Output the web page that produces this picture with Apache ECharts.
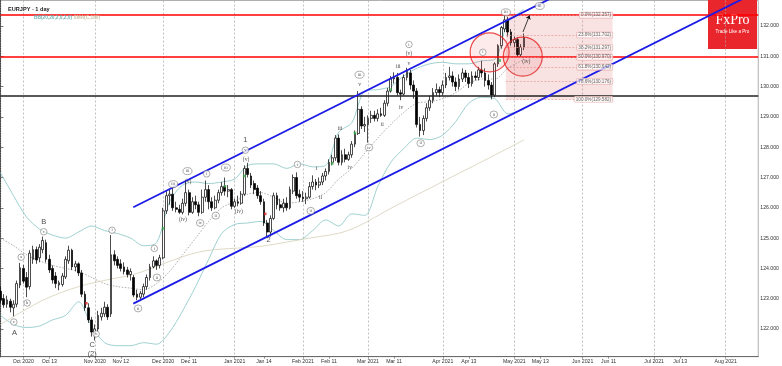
<!DOCTYPE html>
<html><head><meta charset="utf-8">
<script src="https://cdn.jsdelivr.net/npm/echarts@6/dist/echarts.min.js"></script>
<style>html,body{margin:0;padding:0;background:#fff}#c{width:782px;height:366px}</style>
</head><body><div id="c"></div>
<script>
// ---- calendar ----
const startDate = '2020-09-22';
const skipDates = ['2020-12-25'];
const barCount = 234;
const xLabelDates = ['2020-10-01','2020-10-13','2020-11-02','2020-11-12','2020-12-01','2020-12-11','2021-01-01','2021-01-14','2021-02-01','2021-02-11','2021-03-01','2021-03-11','2021-04-01','2021-04-13','2021-05-03','2021-05-13','2021-06-01','2021-06-11','2021-07-01','2021-07-13','2021-08-02'];
const xLabelTexts = ['Oct 2020','Oct 13','Nov 2020','Nov 12','Dec 2020','Dec 11','Jan 2021','Jan 14','Feb 2021','Feb 11','Mar 2021','Mar 11','Apr 2021','Apr 13','May 2021','May 13','Jun 2021','Jun 11','Jul 2021','Jul 13','Aug 2021'];
const monthStartDates = ['2020-10-01','2020-11-02','2020-12-01','2021-01-01','2021-02-01','2021-03-01','2021-04-01','2021-05-03','2021-06-01','2021-07-01','2021-08-02'];
const yTicks = [122,123,124,125,126,127,128,129,130,131,132];

// ---- daily candles (EURJPY) ----
const openP = [
123.25,123.00,122.82,122.92,122.70,122.82,123.45,124.00,123.70,123.40,
124.30,124.62,124.35,124.62,124.85,124.30,124.00,123.75,123.45,123.47,
123.72,124.25,124.60,124.05,124.15,123.85,123.15,122.70,122.30,121.88,
122.00,122.40,122.50,122.72,122.50,124.45,124.30,124.15,124.05,123.95,
123.80,123.70,123.15,123.05,123.15,123.40,123.70,124.05,124.25,124.10,
124.35,125.90,126.40,126.45,126.00,125.95,125.85,126.15,126.50,125.85,
126.20,126.10,125.85,126.35,126.60,126.20,126.00,126.25,126.50,126.70,
126.55,126.60,126.05,126.20,126.15,126.45,127.30,127.05,126.80,126.65,
126.40,126.20,125.50,125.20,125.65,126.40,126.10,126.00,126.15,126.00,
126.55,127.00,126.45,126.35,126.30,126.35,126.70,126.85,126.75,126.85,
127.05,127.20,127.50,127.65,128.30,127.50,127.75,127.60,127.75,128.10,
128.45,129.25,128.70,128.75,128.95,129.05,128.95,129.10,129.05,129.45,
129.85,130.25,130.30,129.80,129.75,130.30,130.45,130.05,129.85,128.75,
128.55,128.95,129.30,129.55,129.80,129.90,129.80,130.05,130.30,130.35,
130.15,130.00,130.25,130.45,130.30,130.10,130.35,130.30,130.55,130.45,
130.20,130.05,129.72,130.75,131.35,131.90,132.20,131.80,131.45,131.55,
131.05,131.30];
const highP = [
123.40,123.15,123.10,123.00,122.95,123.60,124.18,124.12,123.88,124.60,
124.75,124.72,124.80,125.05,124.95,124.45,124.10,123.88,123.60,123.85,
124.40,124.75,124.65,124.25,124.20,123.95,123.25,122.85,122.40,122.15,
122.60,122.70,122.90,122.82,125.10,124.60,124.40,124.30,124.20,124.05,
124.00,123.78,123.30,123.25,123.50,123.80,124.15,124.40,124.30,124.45,
126.00,126.55,126.60,126.70,126.20,126.10,126.30,126.85,126.60,126.35,
126.40,126.20,126.60,126.90,126.75,126.35,126.40,126.60,126.85,127.00,
126.75,126.65,126.30,126.40,126.55,127.40,127.48,127.15,126.90,126.75,
126.55,126.30,125.60,125.75,126.50,126.50,126.30,126.30,126.35,126.70,
127.10,127.17,126.60,126.55,126.50,126.85,127.07,126.95,127.00,127.15,
127.30,127.60,127.75,128.40,128.42,127.90,127.95,127.85,128.20,128.55,
129.85,129.35,129.00,129.05,129.20,129.20,129.25,129.30,129.55,129.95,
130.35,130.47,130.45,129.90,130.40,130.62,130.55,130.20,129.95,129.00,
129.05,129.45,129.70,129.95,130.10,130.00,130.20,130.45,130.65,130.50,
130.30,130.40,130.60,130.55,130.45,130.50,130.50,130.65,130.85,130.60,
130.40,130.15,130.80,131.40,132.00,132.36,132.30,131.90,131.65,131.62,
131.40,131.75];
const lowP = [
122.85,122.70,122.70,122.55,122.42,122.72,123.35,123.50,123.05,123.30,
124.15,124.15,124.20,124.50,124.20,123.85,123.50,123.35,123.28,123.40,
123.65,124.15,123.95,123.90,123.75,123.05,122.60,122.20,121.75,121.62,
121.90,122.28,122.40,122.30,122.40,124.10,124.00,123.90,123.80,123.70,
123.60,123.05,122.95,122.98,123.05,123.30,123.60,124.00,123.95,124.00,
124.30,125.80,126.10,125.90,125.85,125.80,125.78,126.05,125.75,125.80,
125.95,125.72,125.80,126.20,125.95,125.90,125.95,126.15,126.40,126.40,
126.35,125.95,126.00,126.05,126.10,126.40,127.00,126.65,126.45,126.30,
126.10,125.40,125.05,125.05,125.60,125.95,125.90,125.85,125.90,125.95,
126.45,126.30,126.20,126.20,126.12,126.30,126.60,126.58,126.65,126.75,
126.90,127.10,127.40,127.55,127.40,127.40,127.50,127.55,127.65,128.00,
128.40,128.60,128.50,128.15,128.80,128.85,128.85,129.00,129.00,129.35,
129.80,130.10,129.70,129.55,129.70,130.20,129.90,129.60,128.65,128.35,
128.40,128.85,129.20,129.45,129.70,129.65,129.70,129.95,130.20,130.00,
129.85,129.90,130.15,130.15,129.95,130.00,130.20,130.20,130.30,130.00,
129.90,129.58,129.65,130.65,131.25,131.80,131.65,131.35,131.30,130.97,
130.98,131.20];
const closeP = [
122.95,122.80,122.96,122.72,122.82,123.50,124.02,123.58,123.38,124.50,
124.62,124.28,124.70,124.92,124.30,123.95,123.62,123.50,123.53,123.75,
124.30,124.60,124.05,124.15,123.85,123.15,122.70,122.30,121.90,122.00,
122.45,122.52,122.72,122.40,124.45,124.25,124.10,124.00,123.90,123.80,
123.90,123.12,123.05,123.18,123.40,123.70,124.05,124.25,124.10,124.35,
125.90,126.40,126.45,126.00,125.95,125.85,126.15,126.50,125.85,126.20,
126.10,125.85,126.35,126.60,126.20,126.00,126.25,126.50,126.70,126.55,
126.60,126.05,126.20,126.15,126.45,127.30,127.10,126.75,126.60,126.40,
126.20,125.50,125.20,125.65,126.40,126.10,126.00,126.15,126.00,126.60,
127.00,126.40,126.35,126.30,126.35,126.70,126.85,126.75,126.85,127.05,
127.20,127.50,127.65,128.30,127.50,127.75,127.60,127.75,128.10,128.45,
129.25,128.70,128.75,128.95,129.05,128.95,129.10,129.05,129.45,129.85,
130.25,130.30,129.80,129.75,130.30,130.50,130.05,129.85,128.75,128.55,
128.95,129.30,129.55,129.80,129.90,129.80,130.05,130.30,130.35,130.15,
130.00,130.25,130.45,130.30,130.10,130.35,130.30,130.55,130.45,130.20,
130.05,129.72,130.75,131.35,131.95,132.20,131.80,131.45,131.55,131.05,
131.30,131.62];

// ---- indicators ----
const bbIdx   = [0,4,8,12,16,20,24,28,32,36,40,44,48,52,56,60,64,68,72,76,80,84,88,92,96,100,104,108,112,116,120,124,128,132,136,140,144,148,152,156,161];
const bbUpper = [127.15,126.4,125.7,125.3,125.1,125.0,125.2,125.4,125.25,125.15,125.0,124.75,124.85,126.2,126.75,126.85,126.8,126.85,126.95,127.4,127.45,127.45,127.3,127.45,127.35,127.4,128.5,128.8,129.85,129.9,130.0,130.35,130.6,130.75,130.8,130.75,130.75,130.85,130.9,132.1,132.55];
const bbMid   = [125.0,124.75,124.45,124.25,124.1,124.0,123.9,123.7,123.5,123.4,123.35,123.3,123.5,123.9,124.45,125.0,125.55,126.0,126.2,126.45,126.5,126.35,126.15,126.2,126.3,126.5,126.95,127.3,127.8,128.3,128.75,129.15,129.45,129.5,129.6,129.8,130.1,130.25,130.25,130.6,130.9];
const bbLower = [122.45,122.15,122.05,122.1,122.3,122.45,122.9,122.1,121.55,121.45,121.45,121.55,121.5,121.9,122.6,123.4,124.3,125.15,125.45,125.5,125.55,125.25,124.95,124.95,125.25,125.6,125.4,125.8,125.75,126.7,127.5,127.95,128.3,128.25,128.4,128.85,129.45,129.65,129.6,129.1,129.25];
const smaIdx  = [0,13,24,34,41,61,80,95,104,110,120,135,150,161];
const smaVal  = [122.15,122.95,123.4,123.65,123.8,124.54,124.73,125.0,125.16,125.39,125.98,126.81,127.63,128.24];

// ---- drawn objects ----
const channelX = [40.83, 233];
const channelUpperY = [126.02, 136.33];
const channelLowerY = [122.84, 133.15];
const redLevels = [132.357, 130.970];
const blackLevel = 129.70;
const fibX = [155.4, 188.2];
const fibLevels = [132.357, 131.702, 131.297, 130.970, 130.642, 130.176, 129.582];
const fibTexts = ['0.0%(132.357)','23.6%(131.702)','38.2%(131.297)','50.0%(130.970)','61.8%(130.642)','78.6%(130.176)','100.0%(129.582)'];
const circleX = [150.4, 160.6];
const circleY = [131.13, 130.99];
const arrowFrom = [160.65, 131.80];
const arrowTo = [162.7, 132.35];
const priceTags = [131.618, 128.241];
const greenX = [50,69,75,102,109,120,153.5];
const greenY = [125.32,126.71,127.05,127.46,128.47,129.90,130.86];
const redMX = [26.4,81.4];
const redMY = [122.85,125.80];
const circledX = [4.1,6.35,8.2,13.3,34.3,29.4,42.3,47.3,48.1,53.1,57.5,61.4,63.4,66.2,69.3,75.3,91.3,95.4,110.4,113.3,125.6,129.2,148.3,151.7,155.4,165.8];
const circledY = [122.23,124.37,122.86,125.21,125.26,121.84,122.68,124.66,123.70,126.78,127.21,125.50,127.12,125.74,127.33,127.90,127.43,125.90,130.39,127.99,131.39,128.13,131.13,129.08,132.45,132.66];
const circledT = ['v','a','b','c','i','v','ii','i','ii','iii','iii','iv','i','ii','iii','v','i','ii','iii','iv','i','ii','i','ii','iii','iii'];
const plainX = [56.1,57.7,75.5,73.3,97.2,98.4,104.4,107.4,110.4,117.4,122.3,123.2,125.6,125.6,161.7];
const plainY = [125.61,126.88,127.58,125.87,127.30,126.34,128.61,127.33,130.08,128.75,130.65,129.31,131.08,130.76,130.81];
const plainT = ['(iv)','(v)','(v)','(iv)','i','ii','iii','iv','v','ii','iii','iv','(v)','v','(iv)'];
const bigX = [4.3,13.3,28.2,28.2,75.3,82.4];
const bigY = [121.87,125.54,121.47,121.18,128.23,124.93];
const bigT = ['A','B','C','(2)','1','2'];

// ---- build ----
function buildDates(){
  const out=[]; const d=new Date(startDate+'T00:00:00Z');
  while(out.length<barCount){
    const dow=d.getUTCDay(); const s=d.toISOString().slice(0,10);
    if(dow!==0 && dow!==6 && skipDates.indexOf(s)<0) out.push(s);
    d.setUTCDate(d.getUTCDate()+1);
  }
  return out;
}
const dates = buildDates();
const labelMap = {};
xLabelDates.forEach((d,k)=>{ labelMap[dates.indexOf(d)] = xLabelTexts[k]; });
const monthSet = {};
monthStartDates.forEach(d=>{ monthSet[dates.indexOf(d)] = true; });
const candleData = openP.map((o,i)=>[o, closeP[i], lowP[i], highP[i]]);
const pairs = (xs, ys) => xs.map((x,k)=>[x, ys[k]]);

const yMin = 121.087, yMax = 132.84;
const chart = echarts.init(document.getElementById('c'), null, {renderer:'canvas'});
const FONT = 'Liberation Sans';
const option = {
  animation:false,
  backgroundColor:'#ffffff',
  textStyle:{fontFamily:FONT},
  title:[
    {text:'EURJPY - 1 day', left:3, top:1, textStyle:{fontSize:5.6, fontWeight:'bold', color:'#222', fontFamily:FONT}},
    {text:'{a|BB(20,20,2,0,2,0)} {b|SMA(C,180)}', left:29, top:10, textStyle:{fontSize:4.8, rich:{a:{fontSize:4.8,color:'#6fb3b3',fontFamily:FONT}, b:{fontSize:4.8,color:'#c9c0a6',fontFamily:FONT}}}}
  ],
  grid:{left:0.5, right:23, top:0.5, bottom:9.3, show:true, borderColor:'#9a9a9a', borderWidth:0.8},
  xAxis:[
    {type:'category', data:dates, boundaryGap:false,
     axisLine:{lineStyle:{color:'#555', width:0.8}},
     axisTick:{show:true, length:2, interval:(i)=>labelMap[i]!==undefined, lineStyle:{color:'#555', width:0.6}},
     axisLabel:{interval:(i)=>labelMap[i]!==undefined, formatter:(v,i)=>labelMap[i]||'', fontSize:5.2, color:'#333', margin:2, fontFamily:FONT},
     splitLine:{show:true, interval:(i)=>monthSet[i]===true, lineStyle:{type:[2,2], color:'#a8a8a8', width:0.7}}},
    {type:'value', min:0, max:barCount-1, show:false}
  ],
  yAxis:[{type:'value', position:'right', min:yMin, max:yMax,
    axisLine:{show:true, lineStyle:{color:'#444', width:1.2, type:[1,1.5]}},
    axisTick:{show:true, customValues:yTicks, length:3, lineStyle:{color:'#444', width:0.7}},
    axisLabel:{customValues:yTicks, formatter:(v)=>v.toFixed(3), fontSize:5.2, color:'#333', margin:2, fontFamily:FONT},
    splitLine:{show:false}}],
  graphic:[
    {type:'rect', z:0, shape:{x:708, y:0, width:49, height:49}, style:{fill:'#e9262b'}},
    {type:'text', z:1, x:732.5, y:20, style:{text:'FxPro', fill:'#fff', font:'14px "Liberation Serif"', align:'center', verticalAlign:'middle'}},
    {type:'text', z:1, x:732.5, y:32, style:{text:'Trade Like a Pro', fill:'#fff', font:'4.6px "Liberation Sans"', align:'center', verticalAlign:'middle'}}
  ],
  series:[
    {type:'line', name:'bbU', xAxisIndex:1, data:pairs(bbIdx,bbUpper), smooth:0.3, symbol:'none', lineStyle:{color:'#86c4c4', width:0.8}, z:1},
    {type:'line', name:'bbL', xAxisIndex:1, data:pairs(bbIdx,bbLower), smooth:0.3, symbol:'none', lineStyle:{color:'#86c4c4', width:0.8}, z:1},
    {type:'line', name:'bbM', xAxisIndex:1, data:pairs(bbIdx,bbMid), smooth:0.3, symbol:'none', lineStyle:{color:'#8a8a8a', width:0.7, type:[1.5,1.5]}, z:1},
    {type:'line', name:'sma', xAxisIndex:1, data:pairs(smaIdx,smaVal), smooth:0.3, symbol:'none', lineStyle:{color:'#d6cfb8', width:0.8}, z:1},
    {type:'line', name:'fib', xAxisIndex:1, data:[], symbol:'none', z:1,
      markArea:{silent:true, itemStyle:{color:'rgba(222,110,110,0.2)'}, data:[[{coord:[fibX[0], fibLevels[0]]},{coord:[fibX[1], fibLevels[fibLevels.length-1]]}]]},
      markLine:{silent:true, symbol:['none','none'], label:{show:false}, lineStyle:{color:'#e59a9a', width:0.7, type:[2,1.5]},
        data: fibLevels.map(l=>[{coord:[fibX[0], l]},{coord:[fibX[1], l]}])}},
    {type:'candlestick', name:'EURJPY', xAxisIndex:0, data:candleData, barWidth:2.3, z:3,
      itemStyle:{color:'#ffffff', color0:'#000000', borderColor:'#000000', borderColor0:'#000000', borderWidth:0.7},
      markLine:{silent:true, symbol:['none','none'], z:4,
        data:[
          {yAxis:redLevels[0], lineStyle:{color:'#ff0000', width:1.6, type:'solid'}, label:{show:false}},
          {yAxis:redLevels[1], lineStyle:{color:'#ff0000', width:1.6, type:'solid'}, label:{show:false}},
          {yAxis:blackLevel, lineStyle:{color:'#222', width:1.6, type:'solid'}, label:{show:false}},
          {yAxis:priceTags[0], lineStyle:{opacity:0}, label:{show:true, position:'end', distance:1, formatter:priceTags[0].toFixed(3), fontSize:5.2, color:'#000', backgroundColor:'#fff', borderColor:'#000', borderWidth:0.7, padding:[1,1,0,1], fontFamily:FONT}},
          {yAxis:priceTags[1], lineStyle:{opacity:0}, label:{show:true, position:'end', distance:1, formatter:priceTags[1].toFixed(3), fontSize:5.2, color:'#000', backgroundColor:'#fff', borderColor:'#000', borderWidth:0.7, padding:[1,1,0,1], fontFamily:FONT}}
        ]}},
    {type:'line', name:'chU', xAxisIndex:1, data:pairs(channelX,channelUpperY), symbol:'none', lineStyle:{color:'#1c1ce6', width:1.8}, z:5},
    {type:'line', name:'chL', xAxisIndex:1, data:pairs(channelX,channelLowerY), symbol:'none', lineStyle:{color:'#1c1ce6', width:1.8}, z:5},
    {type:'scatter', name:'circles', xAxisIndex:1, data:pairs(circleX,circleY), symbol:'circle', symbolSize:39, z:6,
      itemStyle:{color:'rgba(240,70,70,0.14)', borderColor:'#e52222', borderWidth:1.2}},
    {type:'line', name:'arrow', xAxisIndex:1, data:[], symbol:'none', z:7,
      markLine:{silent:true, symbol:['none','arrow'], symbolSize:4, label:{show:false}, lineStyle:{color:'#111', width:0.8, type:'solid'},
        data:[[{coord:arrowFrom},{coord:arrowTo}]]}},
    {type:'scatter', name:'green', xAxisIndex:1, data:pairs(greenX,greenY), symbol:'rect', symbolSize:2.6, itemStyle:{color:'#3aa84a'}, z:7},
    {type:'scatter', name:'redm', xAxisIndex:1, data:pairs(redMX,redMY), symbol:'rect', symbolSize:2.6, itemStyle:{color:'#d22'}, z:7},
    {type:'scatter', name:'circled', xAxisIndex:1, z:8,
      data: circledX.map((x,k)=>({value:[x, circledY[k]], name:circledT[k], symbolSize: circledT[k].length>=3?[9,7]:(circledT[k].length==2?[7.5,7]:6.5)})),
      symbol:'circle', itemStyle:{color:'#fff', borderColor:'#555', borderWidth:0.6},
      label:{show:true, position:'inside', formatter:'{b}', fontSize:4.4, color:'#222', fontFamily:'Liberation Serif'}},
    {type:'scatter', name:'plain', xAxisIndex:1, z:8, symbolSize:0,
      data: plainX.map((x,k)=>({value:[x, plainY[k]], name:plainT[k]})),
      label:{show:true, position:'inside', formatter:'{b}', fontSize:5.6, color:'#222', fontFamily:'Liberation Serif'}},
    {type:'scatter', name:'big', xAxisIndex:1, z:8, symbolSize:0,
      data: bigX.map((x,k)=>({value:[x, bigY[k]], name:bigT[k]})),
      label:{show:true, position:'inside', formatter:'{b}', fontSize:7.5, color:'#222', fontFamily:FONT}},
    {type:'scatter', name:'fibLabels', xAxisIndex:1, z:8, symbolSize:0,
      data: fibLevels.map((l,k)=>({value:[fibX[1], l], name:fibTexts[k]})),
      label:{show:true, position:'left', distance:0, formatter:'{b}', fontSize:4.6, color:'#444', fontFamily:FONT,
        backgroundColor:'rgba(255,255,255,0.85)', borderColor:'#e3a0a0', borderWidth:0.6, borderRadius:1, padding:[0.5,1.5,0,1.5]}}
  ]
};
chart.setOption(option);
</script>
</body></html>
